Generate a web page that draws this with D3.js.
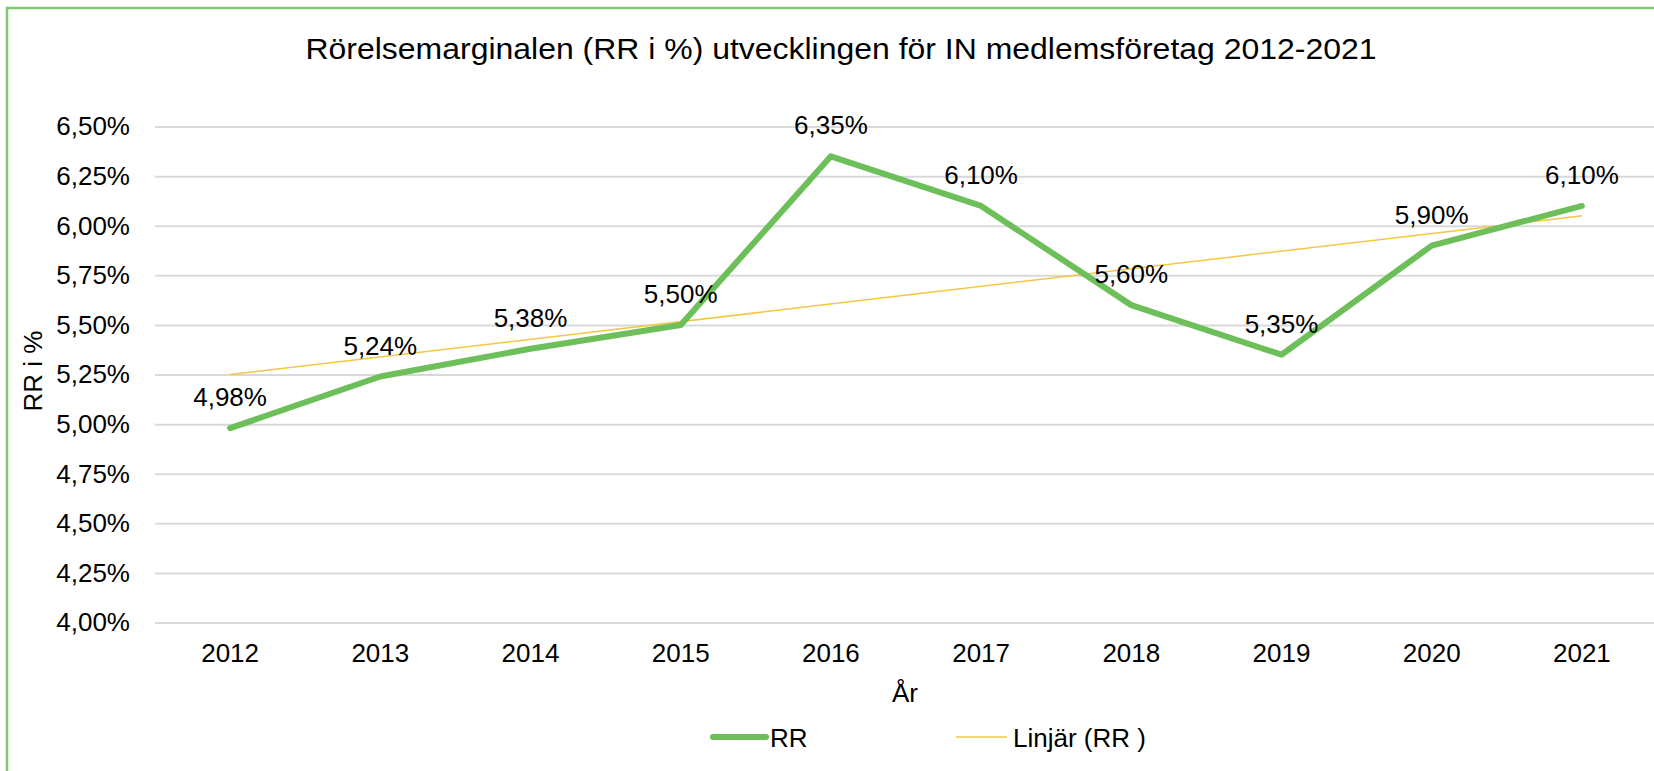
<!DOCTYPE html>
<html><head><meta charset="utf-8">
<script src="https://cdn.jsdelivr.net/npm/d3@7"></script>
<style>html,body{margin:0;padding:0;background:#fff;}svg{display:block;font-family:"Liberation Sans",Arial,sans-serif;}</style>
</head><body>
<svg id="chart" width="1654" height="771"></svg>
<script>
const years = ["2012","2013","2014","2015","2016","2017","2018","2019","2020","2021"];
const rrValues = [4.98, 5.24, 5.38, 5.50, 6.35, 6.10, 5.60, 5.35, 5.90, 6.10];
const rrLabels = ["4,98%","5,24%","5,38%","5,50%","6,35%","6,10%","5,60%","5,35%","5,90%","6,10%"];
const trendYears = ["2012","2021"];
const trendValues = [5.25, 6.05];
const yTicks = [4.00,4.25,4.50,4.75,5.00,5.25,5.50,5.75,6.00,6.25,6.50];
const titleText = "Rörelsemarginalen (RR i %) utvecklingen för IN medlemsföretag 2012-2021";

(function(){
const FS = 26;
const svg = d3.select("#chart");
svg.append("rect").attr("width",1654).attr("height",771).attr("fill","#fff");
// border
svg.append("rect").attr("x",7).attr("y",8).attr("width",1700).attr("height",800)
  .attr("fill","none").attr("stroke","#7dcb6c").attr("stroke-width",2.5);

const pLeft=155, pRight=1657, pTop=126.6, pBottom=622.5;
const x = d3.scaleBand().domain(years).range([pLeft,pRight]);
const y = d3.scaleLinear().domain([4.0,6.5]).range([pBottom,pTop]);
const cx = d => x(d)+x.bandwidth()/2;
const fmt = v => d3.format(".2f")(v).replace(".",",")+"%";

// grid
const yAxis = d3.axisLeft(y).tickValues(yTicks).tickSize(-(pRight-pLeft)).tickFormat(fmt).tickPadding(25);
const gy = svg.append("g").attr("transform",`translate(${pLeft},0)`).call(yAxis);
gy.select(".domain").remove();
gy.selectAll(".tick line").attr("stroke","#d9d9d9").attr("stroke-width",2);
gy.selectAll(".tick text").attr("fill","#000").attr("font-size",FS).attr("font-family","Liberation Sans, Arial, sans-serif");

const xAxis = d3.axisBottom(x).tickSize(0).tickPadding(21);
const gx = svg.append("g").attr("transform",`translate(0,${pBottom})`).call(xAxis);
gx.select(".domain").remove();
gx.selectAll(".tick text").attr("fill","#000").attr("font-size",FS).attr("font-family","Liberation Sans, Arial, sans-serif");

// trend
svg.append("path").datum(trendYears.map((d,i)=>[cx(d),y(trendValues[i])]))
  .attr("d",d3.line()).attr("stroke","#f2c744").attr("stroke-width",1.5).attr("fill","none");

// main line
svg.append("path").datum(years.map((d,i)=>[cx(d),y(rrValues[i])]))
  .attr("d",d3.line()).attr("stroke","#6cbf59").attr("stroke-width",6)
  .attr("stroke-linejoin","round").attr("stroke-linecap","round").attr("fill","none");

// labels
svg.append("g").selectAll("text").data(years).join("text")
  .attr("x",d=>cx(d)).attr("y",(d,i)=>y(rrValues[i])-31)
  .attr("text-anchor","middle").attr("dominant-baseline","central")
  .attr("font-size",FS).attr("fill","#000").text((d,i)=>rrLabels[i]);

// title
svg.append("text").attr("x",841).attr("y",49).attr("text-anchor","middle").attr("dominant-baseline","central")
  .attr("font-size",29).attr("fill","#000").attr("textLength",1071).attr("lengthAdjust","spacingAndGlyphs").text(titleText);

// axis titles
svg.append("text").attr("transform","translate(33,371) rotate(-90)").attr("text-anchor","middle")
  .attr("dominant-baseline","central").attr("font-size",FS).attr("fill","#000").text("RR i %");
svg.append("text").attr("x",(pLeft+pRight)/2-1).attr("y",693).attr("text-anchor","middle")
  .attr("dominant-baseline","central").attr("font-size",FS).attr("fill","#000").text("År");

// legend
const lg = svg.append("g");
lg.append("line").attr("x1",713).attr("x2",766).attr("y1",737).attr("y2",737)
  .attr("stroke","#6cbf59").attr("stroke-width",6).attr("stroke-linecap","round");
lg.append("text").attr("x",770).attr("y",738).attr("dominant-baseline","central").attr("font-size",FS).text("RR");
lg.append("line").attr("x1",956).attr("x2",1007).attr("y1",737).attr("y2",737)
  .attr("stroke","#f2c744").attr("stroke-width",1.5);
lg.append("text").attr("x",1013).attr("y",738).attr("dominant-baseline","central").attr("font-size",FS).text("Linjär (RR )");
})();
</script>
</body></html>
